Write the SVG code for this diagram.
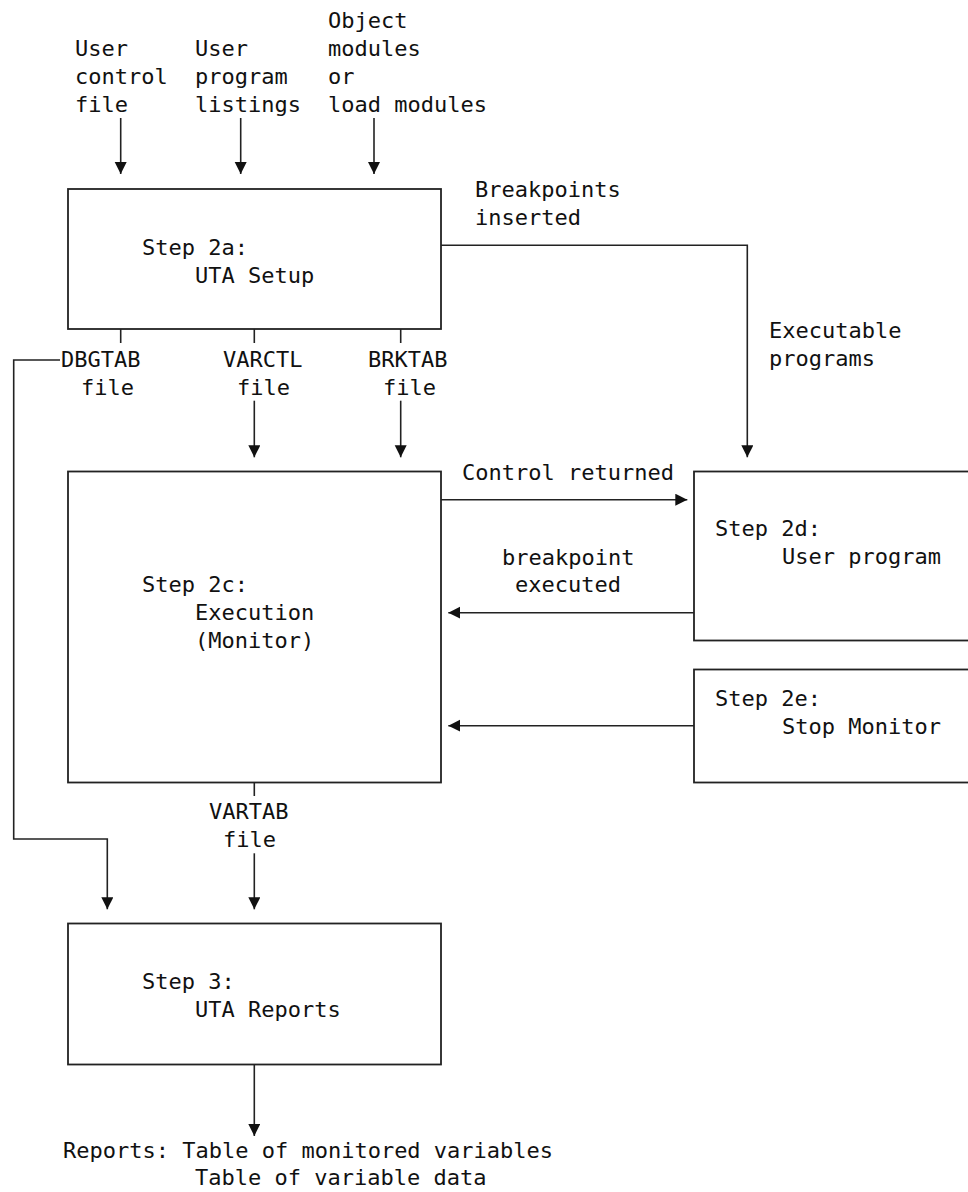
<svg xmlns="http://www.w3.org/2000/svg" width="968" height="1192" viewBox="0 0 968 1192">
  <style>
    text { font-family: "DejaVu Sans Mono", "Liberation Mono", monospace; font-size: 22px; fill: #111; }
    .box { fill: #fff; stroke: #222; stroke-width: 1.8; }
    .wire { fill: none; stroke: #222; stroke-width: 1.6; }
    .arrow { fill: none; stroke: #222; stroke-width: 1.6; marker-end: url(#head); }
  </style>
  <defs>
    <marker id="head" markerUnits="userSpaceOnUse" markerWidth="13" markerHeight="13" refX="12" refY="6" orient="auto">
      <path d="M0,0 L12,6 L0,12 z" fill="#111"/>
    </marker>
  </defs>
  <rect width="968" height="1192" fill="#fff"/>

  <!-- input labels -->
  <g id="inputs">
    <text x="75" y="56">User</text>
    <text x="75" y="84">control</text>
    <text x="75" y="112">file</text>
    <text x="195" y="56">User</text>
    <text x="195" y="84">program</text>
    <text x="195" y="112">listings</text>
    <text x="328" y="28">Object</text>
    <text x="328" y="56">modules</text>
    <text x="328" y="84">or</text>
    <text x="328" y="112">load modules</text>
  </g>

  <!-- Step 2a -->
  <g id="step2a">
    <rect class="box" x="68" y="189" width="373" height="140"/>
    <text x="142" y="255">Step 2a:</text>
    <text x="195" y="283">UTA Setup</text>
  </g>

  <!-- Step 2c -->
  <g id="step2c">
    <rect class="box" x="68" y="471.5" width="373" height="311"/>
    <text x="142" y="592">Step 2c:</text>
    <text x="195" y="620">Execution</text>
    <text x="195" y="648">(Monitor)</text>
  </g>

  <!-- Step 2d -->
  <g id="step2d">
    <rect class="box" x="694" y="471.5" width="300" height="169"/>
    <text x="715" y="536">Step 2d:</text>
    <text x="782" y="564">User program</text>
  </g>

  <!-- Step 2e -->
  <g id="step2e">
    <rect class="box" x="694" y="669.5" width="300" height="113"/>
    <text x="715" y="706">Step 2e:</text>
    <text x="782" y="734">Stop Monitor</text>
  </g>

  <!-- Step 3 -->
  <g id="step3">
    <rect class="box" x="68" y="923.5" width="373" height="141"/>
    <text x="142" y="989">Step 3:</text>
    <text x="195" y="1017">UTA Reports</text>
  </g>

  <!-- connector labels -->
  <g id="labels">
    <text x="475" y="197">Breakpoints</text>
    <text x="475" y="225">inserted</text>
    <text x="769" y="338">Executable</text>
    <text x="769" y="366">programs</text>
    <text x="61" y="367">DBGTAB</text>
    <text x="81" y="395">file</text>
    <text x="223" y="367">VARCTL</text>
    <text x="237" y="395">file</text>
    <text x="368" y="367">BRKTAB</text>
    <text x="383" y="395">file</text>
    <text x="462" y="480">Control returned</text>
    <text x="502" y="565">breakpoint</text>
    <text x="515" y="592">executed</text>
    <text x="209" y="819">VARTAB</text>
    <text x="223" y="847">file</text>
    <text x="63" y="1158">Reports: Table of monitored variables</text>
    <text x="195" y="1185">Table of variable data</text>
  </g>

  <!-- connectors -->
  <g id="connectors">
    <path class="arrow" d="M120.7,118 V174"/>
    <path class="arrow" d="M240.7,118 V174"/>
    <path class="arrow" d="M374,118 V174"/>
    <path class="arrow" d="M441,245.3 H747.3 V457.3"/>
    <path class="wire" d="M120.7,329 V343"/>
    <path class="wire" d="M254.3,329 V343"/>
    <path class="wire" d="M400.7,329 V343"/>
    <path class="arrow" d="M60,360 H13.7 V839 H107.3 V909.3"/>
    <path class="arrow" d="M254.3,400.7 V457.3"/>
    <path class="arrow" d="M400.7,400.7 V457.3"/>
    <path class="arrow" d="M441,499.7 H687.3"/>
    <path class="arrow" d="M694,612.7 H448.3"/>
    <path class="arrow" d="M694,725.7 H448.3"/>
    <path class="wire" d="M254.3,782 V796"/>
    <path class="arrow" d="M254.3,853.3 V909.3"/>
    <path class="arrow" d="M254.3,1064 V1136"/>
  </g>
</svg>
